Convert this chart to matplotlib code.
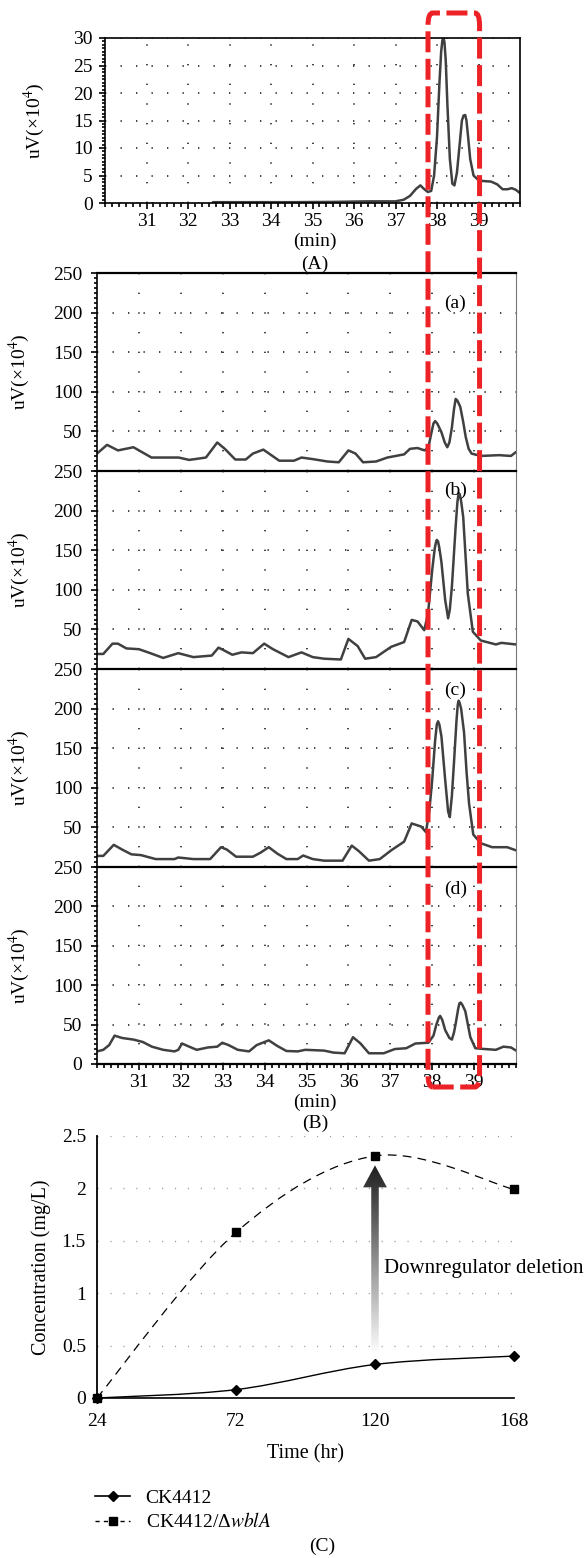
import matplotlib
matplotlib.use('Agg')
import matplotlib.pyplot as plt
import numpy as np
from matplotlib.path import Path
from matplotlib.patches import PathPatch, FancyBboxPatch, Polygon
from matplotlib.lines import Line2D
from matplotlib.ticker import FixedLocator, MultipleLocator, AutoMinorLocator

plt.rcParams['font.family'] = ['Liberation Serif', 'DejaVu Serif']
plt.rcParams['mathtext.fontset'] = 'stix'

# (A) standard chromatogram
std_t = [32.6, 33.5, 34.5, 35.5, 36.3, 37.0, 37.2, 37.35, 37.5, 37.6, 37.68, 37.78, 37.86, 37.93,
         38.0, 38.06, 38.1, 38.13, 38.16, 38.18, 38.21, 38.25, 38.31, 38.37, 38.42, 38.48, 38.55,
         38.6, 38.64, 38.68, 38.71, 38.75, 38.8, 38.88, 38.98, 39.1, 39.3, 39.45, 39.58, 39.7,
         39.8, 39.9, 40.0]
std_uv = [0.15, 0.15, 0.15, 0.2, 0.3, 0.3, 0.6, 1.3, 2.6, 3.2, 2.6, 2.0, 2.2, 5,
          12, 22, 27.5, 29.6, 30, 29.2, 26, 18, 8, 3.5, 3.2, 5.5, 11,
          15, 15.9, 16, 15, 12, 8, 5, 4.3, 4.0, 3.9, 3.4, 2.5, 2.5,
          2.7, 2.4, 1.8]

# (B) samples (a)-(d)
a_t = [30.0, 30.24, 30.5, 30.87, 31.3, 31.95, 32.2, 32.6, 32.87, 33.05, 33.3, 33.55, 33.72, 33.97,
       34.35, 34.7, 34.88, 35.15, 35.5, 35.77, 36.0, 36.17, 36.35, 36.66, 36.93, 37.33, 37.47,
       37.65, 37.82, 37.91, 37.98, 38.03, 38.07, 38.12, 38.22, 38.3, 38.36, 38.41, 38.47, 38.52,
       38.56, 38.6, 38.67, 38.74, 38.8, 38.87, 38.94, 39.16, 39.6, 39.88, 40.0]
a_uv = [22, 33, 26, 30, 17, 17, 14, 17, 36, 28, 14.5, 14.5, 22, 27,
        13, 13, 17, 15, 12, 11, 26, 22, 11, 12, 17, 21, 28,
        29, 26, 30, 48, 60, 63, 60, 49, 36, 30, 36, 55, 78,
        91, 89, 81, 62, 43, 28, 22, 19, 20, 19, 24]

b_t = [30.0, 30.15, 30.37, 30.5, 30.7, 31.0, 31.22, 31.58, 31.94, 32.3, 32.74, 32.9, 33.05, 33.23,
       33.45, 33.72, 33.99, 34.2, 34.57, 34.88, 35.15, 35.42, 35.82, 36.0, 36.22, 36.4, 36.66,
       37.02, 37.33, 37.51, 37.65, 37.81, 37.9, 38.0, 38.06, 38.09, 38.11, 38.14, 38.17, 38.22,
       38.31, 38.38, 38.42, 38.47, 38.56, 38.6, 38.62, 38.64, 38.66, 38.69, 38.74, 38.85, 38.97,
       39.16, 39.52, 39.65, 40.0]
b_uv = [19, 19, 32, 32, 26, 25, 21, 14, 20, 15, 17, 27, 23, 18,
        21, 20, 32, 25, 15, 21, 15, 13, 12, 38, 29, 13, 15,
        28, 34, 62, 60, 49, 70, 125, 152, 160, 163, 161, 153, 135,
        87, 64, 75, 104, 180, 210, 218, 222, 220, 212, 192, 95, 47,
        36, 31, 33, 31]

c_t = [30.0, 30.15, 30.4, 30.6, 30.82, 31.05, 31.4, 31.85, 31.94, 32.3, 32.7, 32.96, 33.1, 33.32,
       33.72, 33.9, 34.1, 34.3, 34.52, 34.79, 34.92, 35.15, 35.42, 35.86, 36.08, 36.25, 36.49,
       36.75, 37.02, 37.33, 37.51, 37.74, 37.85, 37.93, 38.0, 38.07, 38.11, 38.14, 38.17, 38.22,
       38.31, 38.38, 38.42, 38.47, 38.52, 38.58, 38.61, 38.63, 38.65, 38.69, 38.76, 38.82, 38.88,
       38.98, 39.16, 39.43, 39.79, 40.0]
c_uv = [14, 14, 28, 22, 16, 15, 10, 10, 12, 10, 10, 25, 22, 13,
        13, 18, 25, 17, 10, 10, 14.5, 10, 8, 8, 27, 20, 8,
        10, 21, 32, 55, 51, 44, 70, 110, 160, 180, 184, 180, 165,
        110, 70, 63, 90, 132, 185, 205, 210, 208, 200, 170, 120, 80,
        41, 30, 25, 25, 21]

d_t = [30.0, 30.15, 30.29, 30.42, 30.6, 30.87, 31.09, 31.31, 31.58, 31.85, 31.94, 32.03, 32.2, 32.38,
       32.65, 32.87, 32.99, 33.14, 33.36, 33.63, 33.81, 34.1, 34.3, 34.52, 34.79, 34.97, 35.42,
       35.64, 35.91, 36.11, 36.29, 36.49, 36.84, 37.11, 37.38, 37.6, 37.91, 38.03, 38.1, 38.16,
       38.19, 38.24, 38.31, 38.41, 38.47, 38.52, 38.56, 38.62, 38.65, 38.68, 38.72, 38.79, 38.91,
       39.03, 39.25, 39.52, 39.7, 39.88, 40.0]
d_uv = [16, 18, 24, 36, 33, 31, 28, 22, 18, 16, 18, 26, 22, 18,
        21, 22, 27, 24, 18, 16, 24, 30, 23, 16.5, 16, 18, 17,
        14.5, 13.6, 34, 26, 13.6, 13.6, 19, 20, 26, 27, 36, 50, 59,
        61, 56, 43, 33, 31, 40, 51, 70, 77, 78, 75, 67, 34,
        20, 19, 18, 22, 21, 17]

sample_t = [a_t, b_t, c_t, d_t]
sample_uv = [a_uv, b_uv, c_uv, d_uv]
sample_tags = ['(a)', '(b)', '(c)', '(d)']
tag_y = [212, 226, 223, 222]

# (C) production time course
hours = [24, 72, 120, 168]
ck4412 = [0.0, 0.08, 0.32, 0.40]
ck4412_wbla = [0.0, 1.58, 2.31, 1.99]

W, H = 586, 1558
fig = plt.figure(figsize=(W / 100, H / 100), dpi=100)


def rect(l, t, r, b):
    return [l / W, 1 - b / H, (r - l) / W, (b - t) / H]


trace_kw = dict(color='#404040', lw=1.8, solid_joinstyle='round', solid_capstyle='round')
hdots = dict(color='#222222', lw=1.2, linestyle=(0, (0.8, 8.5)))
vdots = dict(color='#222222', lw=1.2, linestyle=(0, (0.8, 11)))
fs = 14

# ---- (A)
axA = fig.add_axes(rect(105, 38, 520, 203))
axA.plot(std_t, std_uv, **trace_kw)
axA.set_xlim(30, 40)
axA.set_ylim(0, 30)
axA.xaxis.set_major_locator(FixedLocator(range(31, 40)))
axA.xaxis.set_minor_locator(MultipleLocator(1 / 6))
axA.yaxis.set_major_locator(MultipleLocator(5))
axA.yaxis.set_minor_locator(AutoMinorLocator(8))
axA.tick_params(which='both', direction='out', width=1.2, labelsize=fs)
axA.tick_params(axis='x', which='major', length=4.5, pad=3)
axA.tick_params(axis='x', which='minor', length=3)
axA.tick_params(axis='y', which='major', length=4, pad=5)
axA.tick_params(axis='y', which='minor', length=2)
axA.xaxis.grid(True, **vdots)
axA.yaxis.grid(True, **hdots)
for s in axA.spines.values():
    s.set_linewidth(1.2)
axA.set_ylabel(r'uV(×10$^4$)', fontsize=fs)
axA.yaxis.set_label_coords(-0.14, 0.5)
fig.text(315 / W, 1 - 241 / H, '(min)', ha='center', va='center', fontsize=fs)
fig.text(315 / W, 1 - 264 / H, '(A)', ha='center', va='center', fontsize=fs)

# ---- (B)
tops = [273, 471, 669, 867, 1064]
axes_b = []
for i in range(4):
    ax = fig.add_axes(rect(97, tops[i], 516, tops[i + 1]))
    axes_b.append(ax)
    ax.plot(sample_t[i], sample_uv[i], **trace_kw)
    ax.set_xlim(30, 40)
    ax.set_ylim(0, 250)
    ax.xaxis.set_major_locator(FixedLocator(range(31, 40)))
    ax.xaxis.set_minor_locator(MultipleLocator(1 / 6))
    ax.yaxis.set_major_locator(FixedLocator(range(50 if i < 3 else 0, 251, 50)))
    ax.yaxis.set_minor_locator(AutoMinorLocator(8))
    ax.tick_params(which='both', direction='out', width=1.2, labelsize=fs)
    ax.tick_params(axis='y', which='major', length=4.5, pad=6)
    ax.tick_params(axis='y', which='minor', length=2)
    if i < 3:
        ax.tick_params(axis='x', which='both', length=0, labelbottom=False)
        ax.spines['bottom'].set_visible(False)
    else:
        ax.tick_params(axis='x', which='major', length=4.5, pad=3)
        ax.tick_params(axis='x', which='minor', length=3)
    ax.xaxis.grid(True, **vdots)
    ax.yaxis.grid(True, **hdots)
    ax.spines['top'].set_linewidth(1.6)
    ax.spines['left'].set_linewidth(1.2)
    ax.spines['bottom'].set_linewidth(1.6)
    ax.spines['right'].set_linewidth(0.8)
    ax.spines['right'].set_color('#777777')
    ax.set_ylabel(r'uV(×10$^4$)', fontsize=fs)
    ax.yaxis.set_label_coords(-0.155, 0.5)
    ax.text(38.55, tag_y[i], sample_tags[i], ha='center', va='center', fontsize=fs)
fig.text(315 / W, 1 - 1102 / H, '(min)', ha='center', va='center', fontsize=fs)
fig.text(315 / W, 1 - 1123 / H, '(B)', ha='center', va='center', fontsize=fs)

# red highlight box across (A) and (B)
fig.canvas.draw()
axd = axes_b[-1]
x0 = axd.transData.transform((37.9, 0))[0] / W
x1 = axd.transData.transform((39.13, 0))[0] / W
y_top = 1 - 13 / H
y_bot = 1 - 1087 / H
box = FancyBboxPatch((x0, y_bot), x1 - x0, y_top - y_bot,
                     boxstyle='round,pad=0,rounding_size=0.008',
                     transform=fig.transFigure, fill=False, edgecolor='#ec2227',
                     lw=3.6, linestyle=(0, (4.2, 1.3)), zorder=10)
fig.patches.append(box)


# ---- (C)
def smooth_path(x, y):
    # Excel-like smoothed line through the points (cubic Bezier segments)
    pts = np.column_stack([x, y]).astype(float)
    n = len(pts)
    verts = [pts[0]]
    codes = [Path.MOVETO]
    for k in range(n - 1):
        p0 = pts[k - 1] if k > 0 else pts[k]
        p1, p2 = pts[k], pts[k + 1]
        p3 = pts[k + 2] if k + 2 < n else pts[k + 1]
        verts += [p1 + (p2 - p0) / 6, p2 - (p3 - p1) / 6, p2]
        codes += [Path.CURVE4] * 3
    return Path(verts, codes)


axC = fig.add_axes(rect(97, 1136, 514, 1398))
axC.set_xlim(24, 168)
axC.set_ylim(0, 2.5)
axC.add_patch(PathPatch(smooth_path(hours, ck4412_wbla), fill=False, color='k', lw=0.9,
                        linestyle=(0, (7, 5))))
axC.add_patch(PathPatch(smooth_path(hours, ck4412), fill=False, color='k', lw=1.0))
axC.plot(hours, ck4412, 'D', color='k', ms=5.5, clip_on=False, zorder=4)
axC.plot(hours, ck4412_wbla, 's', color='k', ms=6, clip_on=False, zorder=5)

# gradient arrow from CK4412 to the deletion mutant at 120 h
xa = hours[2]
ya0 = ck4412[2] + 0.09
ya1 = ck4412_wbla[2] - 0.09
sw, hw, hl = 1.3, 4.1, 0.21
arrow = Polygon([(xa - sw, ya0), (xa + sw, ya0), (xa + sw, ya1 - hl), (xa + hw, ya1 - hl),
                 (xa, ya1), (xa - hw, ya1 - hl), (xa - sw, ya1 - hl)],
                closed=True, facecolor='none', edgecolor='none', transform=axC.transData)
axC.add_patch(arrow)
grad = np.linspace(0.0, 0.88, 256).reshape(-1, 1)
im = axC.imshow(grad, cmap='gray_r', vmin=0, vmax=1, origin='lower', aspect='auto',
                extent=[xa - hw, xa + hw, ya0, ya1], zorder=3, interpolation='bilinear')
im.set_clip_path(arrow)
axC.set_xlim(24, 168)
axC.set_ylim(0, 2.5)
axC.text(xa + 3, 1.24, 'Downregulator deletion', ha='left', va='center', fontsize=15,
         clip_on=False)

axC.spines['top'].set_visible(False)
axC.spines['right'].set_visible(False)
axC.spines['left'].set_linewidth(1.3)
axC.spines['left'].set_bounds(-0.04, 2.5)
axC.spines['bottom'].set_linewidth(1.2)
axC.set_xticks(hours)
axC.set_yticks([0, 0.5, 1, 1.5, 2, 2.5])
axC.set_yticklabels(['0', '0.5', '1', '1.5', '2', '2.5'])
axC.tick_params(length=0, labelsize=fs)
axC.tick_params(axis='y', pad=8)
axC.tick_params(axis='x', pad=11)
axC.yaxis.grid(True, color='#999999', lw=1.0, linestyle=(0, (0.8, 8.5)))
axC.set_axisbelow(True)
axC.set_xlabel('Time (hr)', fontsize=fs + 0.5, labelpad=10)
axC.set_ylabel('Concentration (mg/L)', fontsize=fs + 0.5, labelpad=8)

handles = [Line2D([], [], color='k', lw=1.2, marker='D', ms=5.5),
           Line2D([], [], color='k', lw=1.0, linestyle=(0, (3, 3)), marker='s', ms=6)]
labels = ['CK4412', 'CK4412/Δ$\\mathit{wblA}$']
fig.legend(handles, labels, loc='upper left', bbox_to_anchor=(95 / W, 1 - 1489 / H),
           frameon=False, fontsize=fs, handlelength=1.8, handletextpad=0.8,
           labelspacing=0.3, borderpad=0, borderaxespad=0)
fig.text(322 / W, 1 - 1546 / H, '(C)', ha='center', va='center', fontsize=fs)

fig.savefig('out.png', dpi=100)
